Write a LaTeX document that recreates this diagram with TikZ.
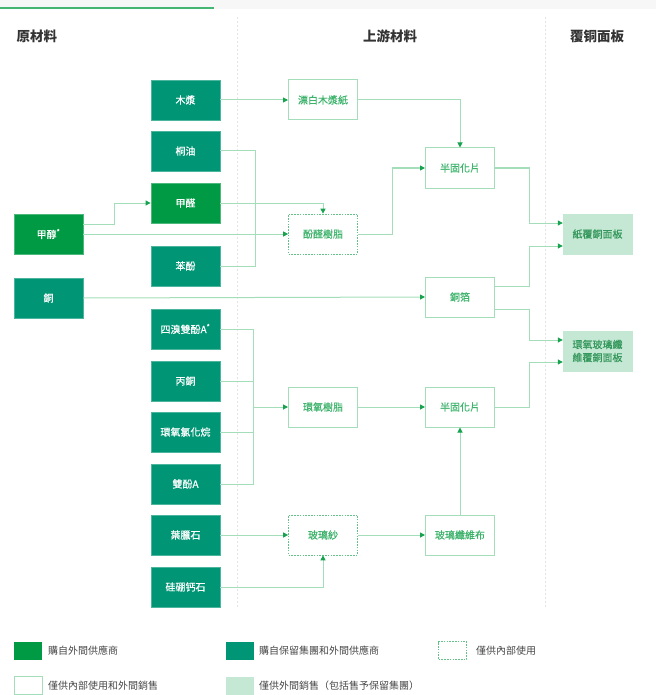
\documentclass[tikz,border=0pt]{standalone}
\usepackage{fontspec}
\setmainfont{Noto Sans CJK TC}
\newfontfamily\semib[FakeBold=0.5]{Noto Sans CJK TC}
\usetikzlibrary{arrows.meta,calc}
\definecolor{bgreen}{HTML}{009A44}
\definecolor{tgreen}{HTML}{009675}
\definecolor{lfill}{HTML}{C4E8D4}
\definecolor{lline}{HTML}{A3DDB9}
\definecolor{ahead}{HTML}{17A24F}
\definecolor{otext}{HTML}{3DB26B}
\definecolor{htext}{HTML}{333333}
\definecolor{sepcol}{HTML}{E4E4E4}
\tikzset{
  box/.style={minimum width=69pt,minimum height=40pt,inner sep=0pt,align=center,font=\fontsize{10}{13}\selectfont\semib},
  buy/.style={box,fill=bgreen,draw=bgreen!70!white,line width=0.8pt,text=white},
  teal/.style={box,fill=tgreen,draw=tgreen!70!white,line width=0.8pt,text=white},
  outl/.style={box,draw=lline,line width=1pt,text=otext},
  dashbox/.style={box,draw=otext!80!white,line width=0.7pt,dash pattern=on 1.6pt off 1.2pt,text=otext},
  sale/.style={box,fill=lfill,draw=lfill,text=otext!85!black},
  conn/.style={draw=lline,line width=1pt},
  arr/.style={conn,-{Triangle[length=5pt,width=5pt,color=ahead]}},
  hdr/.style={font=\fontsize{13.5}{16}\selectfont\bfseries,text=htext},
  leg/.style={font=\fontsize{10}{12}\selectfont,text=htext!90!white,anchor=west,inner sep=0pt},
  sw/.style={minimum width=28pt,minimum height=18pt,inner sep=0pt}
}
\begin{document}
\begin{tikzpicture}[x=1pt,y=-1pt]
\useasboundingbox (0,0) rectangle (656,695);
% top band
\fill[gray!6] (0,0) rectangle (656,9);
\draw[color=ahead!80!white,line width=2pt] (0,8) -- (214,8);
% separators
\draw[sepcol,dash pattern=on 2pt off 2pt] (237,17) -- (237,607);
\draw[sepcol,dash pattern=on 2pt off 2pt] (545,17) -- (545,607);
% headers
\node[hdr,anchor=west] (h1) at (13,36) {原材料};
\node[hdr] (h2) at (390,36) {上游材料};
\node[hdr] (h3) at (597,36) {覆铜面板};
% raw materials
\node[teal] (pulp) at (185.5,100) {木漿};
\node[teal] (tung) at (185.5,151) {桐油};
\node[buy] (form) at (185.5,203) {甲醛};
\node[buy] (meth) at (48.5,234) {甲醇\textsuperscript{*}};
\node[teal] (phen) at (185.5,266) {苯酚};
\node[teal] (cu) at (48.5,298) {銅};
\node[teal] (tbbpa) at (185.5,329) {四溴雙酚A\textsuperscript{*}};
\node[teal] (acet) at (185.5,381) {丙銅};
\node[teal] (epi) at (185.5,432) {環氧氯化烷};
\node[teal] (bpa) at (185.5,484) {雙酚A};
\node[teal] (pyro) at (185.5,535) {葉臘石};
\node[teal] (cole) at (185.5,587) {硅硼钙石};
% upstream
\node[outl] (bleach) at (323,100) {漂白木漿紙};
\node[outl] (pp1) at (460,168) {半固化片};
\node[dashbox] (phres) at (323,234) {酚醛樹脂};
\node[outl] (foil) at (460,297) {銅箔};
\node[outl] (epres) at (323,407) {環氧樹脂};
\node[outl] (pp2) at (460,407) {半固化片};
\node[dashbox] (yarn) at (323,535) {玻璃紗};
\node[outl] (cloth) at (460,535) {玻璃纖維布};
% ccl
\node[sale] (pccl) at (597.5,234) {紙覆銅面板};
\node[sale] (eccl) at (597.5,351) {環氧玻璃纖\\維覆銅面板};
% connectors
\draw[arr] (pulp) -- (bleach);
\draw[arr] (bleach.east) -| (pp1.north);
\draw[arr] (phres.east) -- ++(34.5,0) |- (pp1.west);
\draw[arr] (pp1.east) -- ++(34,0) |- ([yshift=11pt]pccl.west);
\draw[arr] ([yshift=11pt]foil.east) -- ++(34,0) |- ([yshift=-12pt]pccl.west);
\draw[arr] ([yshift=-12pt]foil.east) -- ++(34,0) |- ([yshift=11pt]eccl.west);
\draw[arr] (pp2.east) -- ++(34,0) |- ([yshift=-11pt]eccl.west);
\draw[arr] ([yshift=10pt]meth.east) -- ++(31,0) |- (form.west);
\draw[arr] (meth.east) -- (phres.west);
\draw[arr] (form.east) -| (phres.north);
\draw[conn] (tung.east) -- ++(35,0) |- (phen.east);
\draw[arr] (cu.east) -- (foil.west);
\coordinate (ej) at ($(tbbpa.east)+(33,0)$);
\draw[conn] (tbbpa.east) -- (ej) |- (bpa.east);
\draw[conn] (acet.east) -- (ej |- acet.east);
\draw[conn] (epi.east) -- (ej |- epi.east);
\draw[arr] (ej |- epres.west) -- (epres.west);
\draw[arr] (epres) -- (pp2);
\draw[arr] (pyro) -- (yarn);
\draw[arr] (cole.east) -| (yarn.south);
\draw[arr] (yarn) -- (cloth);
\draw[arr] (cloth) -- (pp2);
% legend
\node[sw,fill=bgreen] (l1) at (28,650.5) {};
\node[leg] (t1) at (48,650.5) {購自外間供應商};
\node[sw,fill=tgreen] (l2) at (240,650.5) {};
\node[leg] (t2) at (259,650.5) {購自保留集團和外間供應商};
\node[sw,draw=otext!80!white,line width=0.7pt,dash pattern=on 1.6pt off 1.2pt] (l3) at (452.5,650.5) {};
\node[leg] (t3) at (476,650.5) {僅供內部使用};
\node[sw,draw=lline,line width=1pt] (l4) at (28,685.5) {};
\node[leg] (t4) at (48,685.5) {僅供內部使用和外間銷售};
\node[sw,fill=lfill] (l5) at (240,685.5) {};
\node[leg] (t5) at (259,685.5) {僅供外間銷售（包括售予保留集團）};
\end{tikzpicture}
\end{document}
